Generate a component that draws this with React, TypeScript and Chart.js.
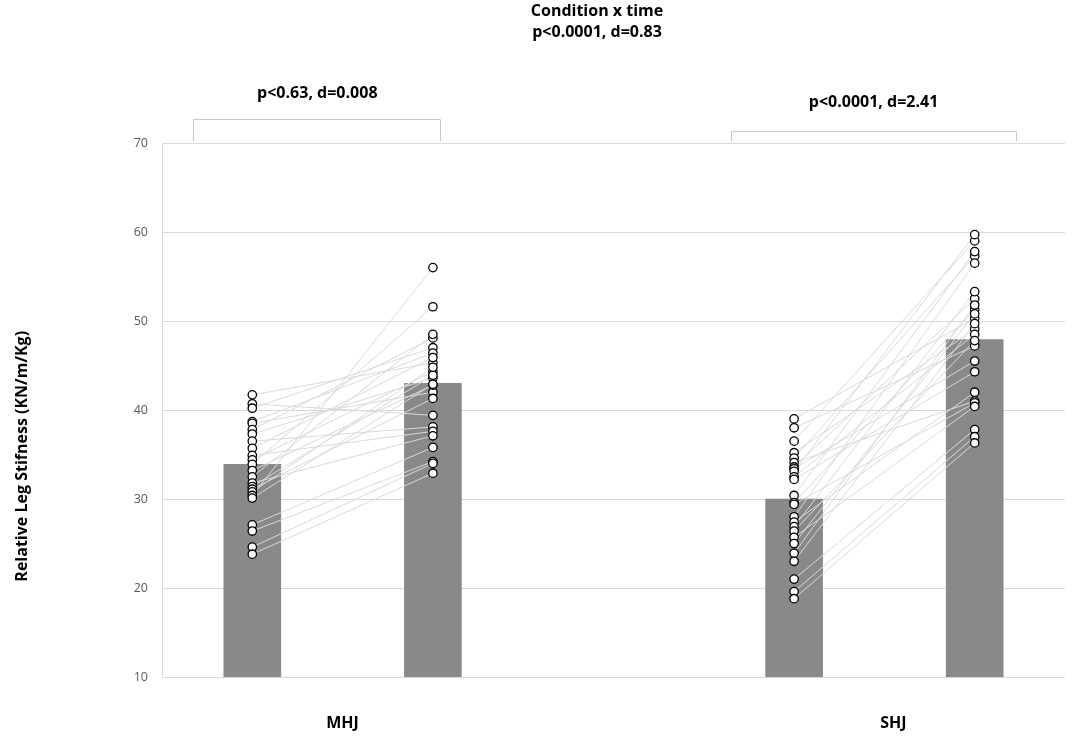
import { useEffect, useRef } from 'react';
import Chart from 'chart.js/auto';

const GROUPS = ['MHJ', 'SHJ'];
const GROUP_X = [1.5, 4.55];
const BAR_X = [1, 2, 4, 5];
const BAR_MEANS = [33.9, 43.0, 30.0, 47.9];

// individual subjects, pre -> post (same index = same subject)
const MHJ_PRE = [41.7, 40.7, 40.2, 38.7, 38.5, 37.8, 37.3, 36.5, 35.7, 34.9, 34.4, 33.9, 33.2, 32.5, 31.8, 31.4, 31.1, 30.8, 30.4, 30.1, 27.1, 26.4, 24.6, 23.8];
const MHJ_POST = [45.3, 39.4, 47.0, 46.4, 42.0, 48.1, 43.6, 38.1, 45.9, 37.6, 44.3, 51.6, 42.8, 48.5, 37.1, 43.9, 41.3, 44.8, 56.0, 42.9, 35.8, 34.2, 34.0, 32.9];
const SHJ_PRE = [39.0, 38.0, 36.5, 35.2, 34.6, 34.1, 33.6, 33.4, 33.1, 32.5, 32.2, 30.4, 29.6, 29.4, 28.0, 27.4, 26.9, 26.4, 25.7, 25.0, 23.9, 23.0, 21.0, 19.6, 18.8];
const SHJ_POST = [50.3, 47.2, 59.0, 49.1, 57.3, 41.0, 52.5, 45.5, 59.7, 48.5, 44.3, 57.8, 51.3, 40.8, 56.5, 42.0, 53.3, 47.8, 40.4, 50.8, 51.8, 49.7, 37.8, 37.0, 36.3];

const Y_MIN = 10;
const Y_MAX = 70;
const Y_STEP = 10;

const TITLE_LINES = ['Condition x time', 'p<0.0001, d=0.83'];
const STAT_LABELS = ['p<0.63, d=0.008', 'p<0.0001, d=2.41'];
const Y_TITLE = 'Relative Leg Stifness (KN/m/Kg)';

const FONT = "'Open Sans', sans-serif";

const annotations = {
  id: 'annotations',
  afterDraw(chart: any) {
    const { ctx, scales } = chart;
    const x = scales.x;
    const y = scales.y;
    ctx.save();

    // brackets over each condition
    const brackets = [
      { from: 0.67, to: 2.04, top: 72.7 },
      { from: 3.65, to: 5.23, top: 71.4 },
    ];
    ctx.strokeStyle = '#c8c8c8';
    ctx.lineWidth = 1;
    brackets.forEach((b) => {
      const l = Math.round(x.getPixelForValue(b.from)) + 0.5;
      const r = Math.round(x.getPixelForValue(b.to)) + 0.5;
      const t = Math.round(y.getPixelForValue(b.top)) + 0.5;
      const f = y.getPixelForValue(70.2);
      ctx.beginPath();
      ctx.moveTo(l, f);
      ctx.lineTo(l, t);
      ctx.lineTo(r, t);
      ctx.lineTo(r, f);
      ctx.stroke();
    });

    ctx.fillStyle = '#000';
    ctx.textAlign = 'center';
    ctx.textBaseline = 'middle';
    ctx.font = `bold 16px ${FONT}`;
    const statPos = [
      { x: 1.36, y: 75.6 },
      { x: 4.44, y: 74.6 },
    ];
    STAT_LABELS.forEach((s, i) => {
      ctx.fillText(s, x.getPixelForValue(statPos[i].x), y.getPixelForValue(statPos[i].y));
    });

    TITLE_LINES.forEach((s, i) => {
      ctx.fillText(s, 597, 11 + i * 21);
    });

    ctx.translate(22, y.getPixelForValue(34.8));
    ctx.rotate(-Math.PI / 2);
    ctx.fillText(Y_TITLE, 0, 0);
    ctx.restore();
  },
};

function StiffnessChart() {
  const ref = useRef<HTMLCanvasElement>(null);
  useEffect(() => {
    if (!ref.current) return;
    document.body.style.margin = '0';

    const subjects = [
      ...MHJ_PRE.map((v, i) => [{ x: BAR_X[0], y: v }, { x: BAR_X[1], y: MHJ_POST[i] }]),
      ...SHJ_PRE.map((v, i) => [{ x: BAR_X[2], y: v }, { x: BAR_X[3], y: SHJ_POST[i] }]),
    ];

    const c = new Chart(ref.current, {
      type: 'bar',
      data: {
        datasets: [
          {
            type: 'scatter',
            data: subjects.flat(),
            backgroundColor: '#ffffff',
            borderColor: '#000000',
            pointRadius: 4.2,
            pointBorderWidth: 1.3,
            order: 0,
          } as any,
          ...subjects.map((pair) => ({
            type: 'line',
            data: pair,
            borderColor: '#d9d9d9',
            borderWidth: 1,
            pointRadius: 0,
            order: 1,
          })),
          {
            type: 'bar',
            data: BAR_X.map((x, i) => ({ x, y: BAR_MEANS[i] })),
            backgroundColor: '#898989',
            barThickness: 57,
            order: 2,
          },
        ],
      },
      options: {
        animation: false,
        responsive: true,
        maintainAspectRatio: false,
        events: [],
        layout: { padding: { top: 143, right: 7, left: 0, bottom: 0 } },
        scales: {
          x: {
            type: 'linear',
            min: 0.5,
            max: 5.5,
            offset: false,
            grid: { display: false, drawTicks: false },
            border: { display: false },
            afterBuildTicks: (s: any) => {
              s.ticks = GROUP_X.map((value) => ({ value }));
            },
            afterFit: (s: any) => {
              s.height = 62;
            },
            ticks: {
              autoSkip: false,
              maxRotation: 0,
              padding: 37,
              color: '#000',
              font: { family: FONT, size: 16, weight: 'bold' },
              callback: (_v: any, i: number) => GROUPS[i],
            },
          },
          y: {
            min: Y_MIN,
            max: Y_MAX,
            grid: { color: '#d9d9d9', drawTicks: false },
            border: { display: true, color: '#d9d9d9' },
            afterFit: (s: any) => {
              s.width = 162;
            },
            ticks: {
              stepSize: Y_STEP,
              padding: 14,
              color: '#595959',
              font: { family: FONT, size: 12.5 },
            },
          },
        },
        plugins: {
          legend: { display: false },
          tooltip: { enabled: false },
        },
      },
      plugins: [annotations],
    });
    return () => c.destroy();
  }, []);
  return (
    <div style={{ width: 1072, height: 739, position: 'relative' }}>
      <canvas ref={ref} />
    </div>
  );
}

export default function App() {
  return <StiffnessChart />;
}
